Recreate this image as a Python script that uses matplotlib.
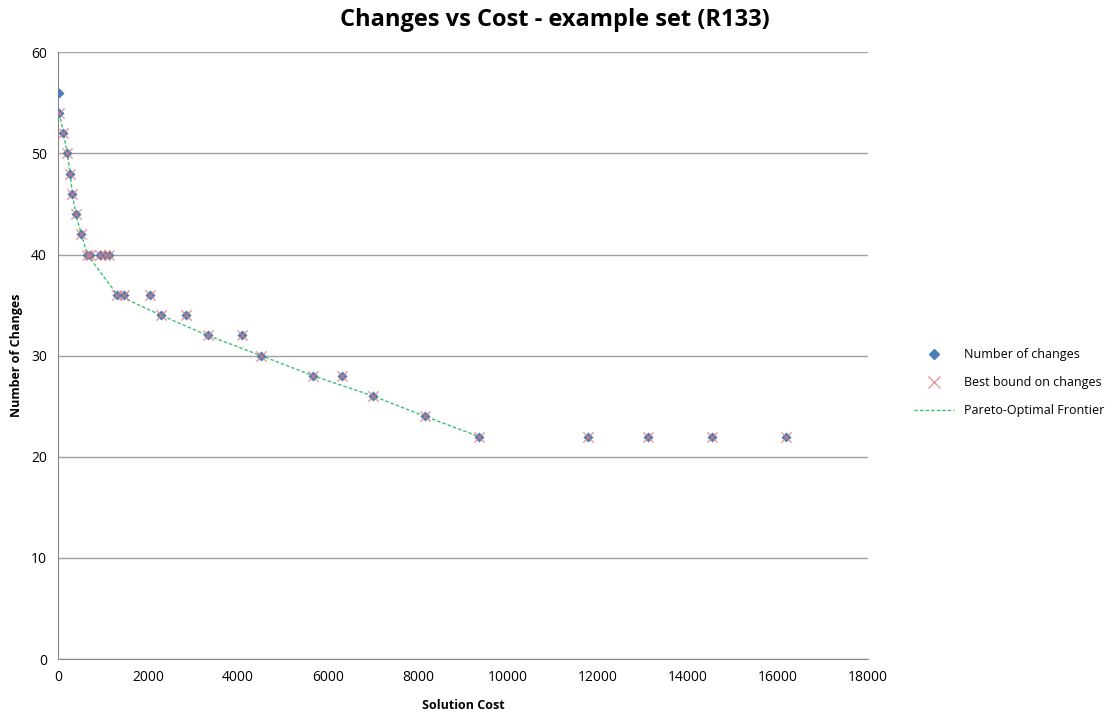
import matplotlib
matplotlib.use("Agg")
import matplotlib.pyplot as plt
from matplotlib.lines import Line2D

plt.rcParams["font.family"] = ["Open Sans", "DejaVu Sans"]

# solution cost / number of changes for every run in the set
cost = [30, 30, 118, 207, 267, 318, 393, 518, 650, 720, 930, 1040, 1130,
        1318, 1467, 2044, 2281, 2844, 3326, 4081, 4511, 5674, 6319,
        7007, 8156, 9356, 11778, 13111, 14533, 16178]
changes = [56, 54, 52, 50, 48, 46, 44, 42, 40, 40, 40, 40, 40,
           36, 36, 36, 34, 34, 32, 32, 30, 28, 28,
           26, 24, 22, 22, 22, 22, 22]

# best bound available for each run (none for the first one)
bound_cost = cost[1:]
bound_changes = changes[1:]

# non-dominated runs
pareto_cost = [30, 118, 207, 267, 318, 393, 518, 650, 1318, 2281, 3326,
               4511, 5674, 7007, 8156, 9356]
pareto_changes = [54, 52, 50, 48, 46, 44, 42, 40, 36, 34, 32,
                  30, 28, 26, 24, 22]

fig = plt.figure(figsize=(11.17, 7.13), dpi=100)
ax = fig.add_axes([0.052, 0.0757, 0.725, 0.851])

ax.plot(pareto_cost, pareto_changes, linestyle=(0, (2.5, 1.5)), color="#3CC36E",
        lw=1.0, zorder=2, label="Pareto-Optimal Frontier")
ax.scatter(cost, changes, marker="D", s=26, color="#4A7EBB", zorder=3,
           linewidths=0, label="Number of changes")
ax.scatter(bound_cost, bound_changes, marker="x", s=55, color="#E07A78",
           alpha=0.75, linewidths=1.0, zorder=4, label="Best bound on changes")

ax.set_xlim(0, 18000)
ax.set_ylim(0, 60)
ax.set_xticks(range(0, 18001, 2000))
ax.set_yticks(range(0, 61, 10))
ax.tick_params(length=0, labelsize=10, pad=8)
ax.yaxis.grid(True, color="#a0a0a0", lw=1.0)
ax.set_axisbelow(True)
for s in ["top", "right"]:
    ax.spines[s].set_visible(False)
for s in ["left", "bottom"]:
    ax.spines[s].set_color("#868686")

ax.set_xlabel("Solution Cost", fontsize=9, fontweight="bold", labelpad=10)
ax.set_ylabel("Number of Changes", fontsize=9, fontweight="bold", labelpad=6)
fig.text(0.497, 0.972, "Changes vs Cost - example set (R133)", ha="center",
         va="center", fontsize=17, fontweight="bold")

handles = [
    Line2D([], [], marker="D", color="#4A7EBB", linestyle="none", markersize=5.5),
    Line2D([], [], marker="x", color="#E07A78", linestyle="none", markersize=8,
           alpha=0.75),
    Line2D([], [], color="#3CC36E", linestyle=(0, (2.5, 1.5)), lw=1.0),
]
labels = ["Number of changes", "Best bound on changes", "Pareto-Optimal Frontier"]
fig.legend(handles, labels, loc="center left", bbox_to_anchor=(0.808, 0.463),
           frameon=False, fontsize=9, labelspacing=1.2, handlelength=3.2)

fig.savefig("out.png", dpi=100)
